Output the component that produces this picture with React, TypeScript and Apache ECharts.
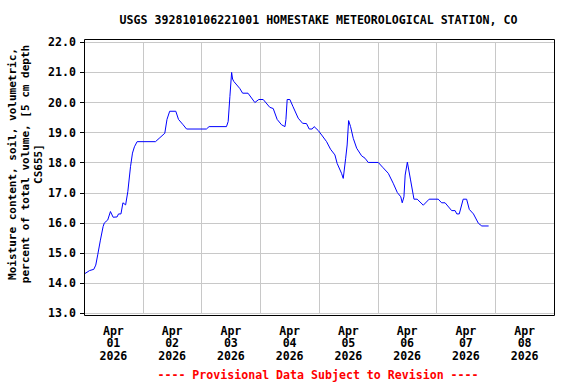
import React, { useEffect, useRef } from "react";
import * as echarts from "echarts";

const chartTitle = "USGS 392810106221001 HOMESTAKE METEOROLOGICAL STATION, CO";
const yAxisTitle = "Moisture content, soil, volumetric,\npercent of total volume, [5 cm depth\nCS655]";
const footerText = "---- Provisional Data Subject to Revision ----";
const dayLabels = [
  "Apr\n01\n2026",
  "Apr\n02\n2026",
  "Apr\n03\n2026",
  "Apr\n04\n2026",
  "Apr\n05\n2026",
  "Apr\n06\n2026",
  "Apr\n07\n2026",
  "Apr\n08\n2026",
];
// hours since Apr 01 2026 00:00
const hours = [
  0, 2.3, 4.0, 4.8, 5.6, 6.7, 7.8, 8.3, 9.7, 10.8, 11.9, 13.5, 14.1, 15.1, 15.9, 17.0, 17.9, 19.0, 19.8, 20.6,
  21.7, 29.2, 30.7, 33.0, 33.9, 35.0, 37.5, 38.6, 40.5, 41.9, 50.0, 51.1, 58.2, 58.9, 59.6, 60.3, 60.7, 61.2,
  63.6, 64.8, 67.0, 69.8, 71.4, 73.2, 75.9, 77.3, 78.9, 80.7, 82.1, 82.5, 83.0, 84.1, 85.4, 87.5, 89.3, 90.9,
  92.0, 93.2, 94.0, 95.7, 97.1, 99.1, 100.7, 102.5, 103.4, 105.2, 105.9, 106.9, 107.5, 108.1, 108.9, 110.0,
  111.4, 113.4, 114.8, 116.1, 120.2, 122.0, 124.3, 126.3, 128.0, 129.4, 130.0, 130.7, 131.2, 132.1, 133.4,
  134.8, 136.1, 138.6, 141.0, 144.7, 146.1, 147.5, 150.2, 151.6, 152.3, 153.3, 154.9, 156.3, 157.4, 159.1,
  161.1, 162.5, 165.3,
];
const moisture = [
  14.3, 14.42, 14.46, 14.6, 14.94, 15.43, 15.88, 16.0, 16.1, 16.38, 16.19, 16.2, 16.3, 16.3, 16.67, 16.6, 17.04,
  17.87, 18.32, 18.53, 18.7, 18.7, 18.81, 18.98, 19.44, 19.71, 19.71, 19.44, 19.26, 19.12, 19.12, 19.2, 19.2,
  19.37, 20.2, 21.0, 20.78, 20.7, 20.47, 20.31, 20.31, 20.0, 20.1, 20.1, 19.84, 19.8, 19.44, 19.26, 19.2, 19.44,
  20.1, 20.1, 19.86, 19.48, 19.31, 19.3, 19.12, 19.12, 19.2, 19.07, 18.92, 18.7, 18.45, 18.26, 17.98, 17.65,
  17.48, 18.15, 18.59, 19.4, 19.2, 18.81, 18.48, 18.23, 18.15, 18.01, 18.01, 17.85, 17.65, 17.32, 17.01, 16.87,
  16.67, 16.87, 17.59, 18.02, 17.43, 16.79, 16.79, 16.59, 16.79, 16.79, 16.67, 16.67, 16.41, 16.41, 16.3, 16.3,
  16.79, 16.79, 16.45, 16.3, 15.99, 15.9, 15.9,
];
const yMin = 13;
const yMax = 22;
const xMaxHours = 192;

const FONT = '"DejaVu Sans Mono", monospace';

export default function App() {
  const ref = useRef<HTMLDivElement>(null);
  useEffect(() => {
    const chart = echarts.init(ref.current!, null, { renderer: "svg" });
    chart.setOption({
      animation: false,
      backgroundColor: "#ffffff",
      grid: { left: 84, right: 22, top: 42.3, bottom: 70.7, containLabel: false },
      xAxis: [
        {
          type: "value",
          min: 0,
          max: xMaxHours,
          interval: 24,
          axisLabel: { show: false },
          axisTick: { show: false },
          axisLine: { show: false },
          splitLine: { show: true, lineStyle: { color: "#c8c8c8", width: 1 } },
        },
        {
          type: "category",
          data: dayLabels,
          position: "bottom",
          boundaryGap: true,
          axisTick: { show: false },
          axisLine: { show: false },
          splitLine: { show: false },
          axisLabel: {
            interval: 0,
            margin: 11,
            color: "#000",
            fontFamily: FONT,
            fontWeight: "bold",
            fontSize: 11.6,
            lineHeight: 12.7,
          },
        },
      ],
      yAxis: {
        type: "value",
        min: yMin,
        max: yMax,
        interval: 1,
        axisLine: { show: false },
        axisTick: { show: true, length: 4, lineStyle: { color: "#000" } },
        splitLine: { show: true, lineStyle: { color: "#c8c8c8", width: 1 } },
        axisLabel: {
          margin: 8,
          color: "#000",
          fontFamily: FONT,
          fontWeight: "bold",
          fontSize: 11.6,
          formatter: (v: number) => v.toFixed(1),
        },
      },
      series: [
        {
          type: "line",
          xAxisIndex: 0,
          yAxisIndex: 0,
          data: hours.map((h, i) => [h, moisture[i]]),
          showSymbol: false,
          lineStyle: { color: "#0000ff", width: 1 },
          z: 5,
        },
      ],
      graphic: [
        {
          type: "rect",
          z: 100,
          shape: { x: 84.5, y: 39.5, width: 470, height: 276 },
          style: { fill: "none", stroke: "#000", lineWidth: 1 },
        },
        {
          type: "text",
          x: 318.5,
          y: 20,
          style: {
            text: chartTitle,
            textAlign: "center",
            textVerticalAlign: "middle",
            font: `bold 11.6px ${FONT}`,
            fill: "#000",
          },
        },
        {
          type: "text",
          x: 318,
          y: 375,
          style: {
            text: footerText,
            textAlign: "center",
            textVerticalAlign: "middle",
            font: `bold 11.6px ${FONT}`,
            fill: "#ff0000",
          },
        },
        {
          type: "text",
          x: 25,
          y: 164,
          rotation: Math.PI / 2,
          style: {
            text: yAxisTitle,
            textAlign: "center",
            textVerticalAlign: "middle",
            font: `bold 11px ${FONT}`,
            lineHeight: 13,
            fill: "#000",
          },
        },
      ],
    });
    return () => chart.dispose();
  }, []);
  return (
    <div
      ref={ref}
      style={{ position: "fixed", left: 0, top: 0, width: 576, height: 384, background: "#fff" }}
    />
  );
}
